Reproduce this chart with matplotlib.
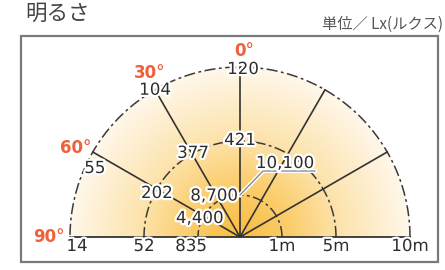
import numpy as np
import matplotlib
matplotlib.use("Agg")
import matplotlib.pyplot as plt
from matplotlib.colors import LinearSegmentedColormap
from matplotlib.patches import Wedge, Rectangle
import matplotlib.patheffects as pe

plt.rcParams['lines.scale_dashes'] = False

# ---- data ----
angles = [0, 30, 60, 90]                 # degrees from vertical
distances = ["1m", "5m", "10m"]
lux_1m = [10100, 8700, 4400, 835]
lux_5m = [421, 377, 202, 52]
lux_10m = [120, 104, 55, 14]
angle_labels = ["0°", "30°", "60°", "90°"]
title = "明るさ"
unit = "単位／ Lx(ルクス)"

# ---- layout ----
W, H = 445, 270
cx_px, cy_px = 240, 237
ring_r = [42, 96, 170]          # schematic radii (px) of the 1m / 5m / 10m rings
# per-label offsets (px) from the ring point, rows = rings, cols = angles
offsets = [
    [None, (-5, 5), (-4, -2), (-7, -9)],
    [(0, 1), (1, 1), (0, -4), (0, -9)],
    [(3, -2), (0, 0), (2, -16), (7, -9)],
]

fig = plt.figure(figsize=(W / 100, H / 100), dpi=100)
ax = fig.add_axes([0, 0, 1, 1])
ax.set_xlim(-cx_px, W - cx_px)
ax.set_ylim(-(H - cy_px), cy_px)
ax.axis("off")

R = ring_r[-1]

# radial gradient
n = 400
xs = np.linspace(-R, R, n)
ys = np.linspace(0, R, n // 2)
XX, YY = np.meshgrid(xs, ys)
T = np.clip(np.sqrt(XX ** 2 + YY ** 2) / R, 0, 1)
cmap = LinearSegmentedColormap.from_list(
    "glow", [(0, "#f8bd42"), (0.3, "#fbcd6c"), (0.6, "#fde4ae"), (1.0, "#fff7ea")])
img = ax.imshow(cmap(T), extent=[-R, R, 0, R], origin="lower", zorder=1,
                interpolation="bilinear")
clip = Wedge((0, 0), R, 0, 180, transform=ax.transData)
img.set_clip_path(clip)

# rings
th = np.linspace(0, np.pi, 400)
for r in ring_r:
    ax.plot(r * np.cos(th), r * np.sin(th), color="#3a3a3a", lw=1.1,
            dashes=(8, 2.5, 2, 2.5), zorder=3)

# spokes
for a in [-60, -30, 0, 30, 60]:
    t = np.deg2rad(a)
    ax.plot([0, R * np.sin(t)], [0, R * np.cos(t)], color="#333333", lw=1.2, zorder=3)

# baseline
ax.plot([-R, R], [0, 0], color="#333333", lw=1.3, zorder=3)

# frame
ax.add_patch(Rectangle((21 - cx_px, cy_px - 262), 417, 226, fill=False,
                       edgecolor="#7a7a7a", lw=1.6, zorder=0))

stroke = [pe.withStroke(linewidth=3.2, foreground="white")]
txt_kw = dict(fontsize=12, color="#2e2e2e", ha="center", va="center",
              family="DejaVu Sans", zorder=5, path_effects=stroke)

rings_vals = [lux_1m, lux_5m, lux_10m]
for i, vals in enumerate(rings_vals):
    r = ring_r[i]
    for j, a in enumerate(angles):
        t = np.deg2rad(a)
        px, py = -r * np.sin(t), r * np.cos(t)
        off = offsets[i][j]
        label = f"{vals[j]:,}"
        if off is None:
            # leader line label
            lx = [px, px + 23, px + 75]
            ly = [py, py + 24, py + 24]
            ax.plot(lx, ly, color="white", lw=3, zorder=4)
            ax.plot(lx, ly, color="#8a8a8a", lw=1.0, zorder=4.5)
            ax.text(px + 45, py + 32, label, **txt_kw)
        else:
            ax.text(px + off[0], py + off[1], label, **txt_kw)

# distance labels
for r, d in zip(ring_r, distances):
    ax.text(r, -9, d, **txt_kw)

# angle labels
ang_pos = [(4, 186), (-90, 164), (-164, 89), (-191, 0)]
for (x, y), s in zip(ang_pos, angle_labels):
    ax.text(x, y, s, fontsize=12, color="#f0603c", fontweight="bold",
            ha="center", va="center", family="DejaVu Sans", zorder=5)

ax.text(25 - cx_px, cy_px - 14, title, fontsize=15.5, color="#444444",
        ha="left", va="center", family=["Noto Sans CJK JP", "DejaVu Sans"])
ax.text(443 - cx_px, cy_px - 24, unit, fontsize=11, color="#555555",
        ha="right", va="center", family=["Noto Sans CJK JP", "DejaVu Sans"])

fig.savefig("out.png", dpi=100)
